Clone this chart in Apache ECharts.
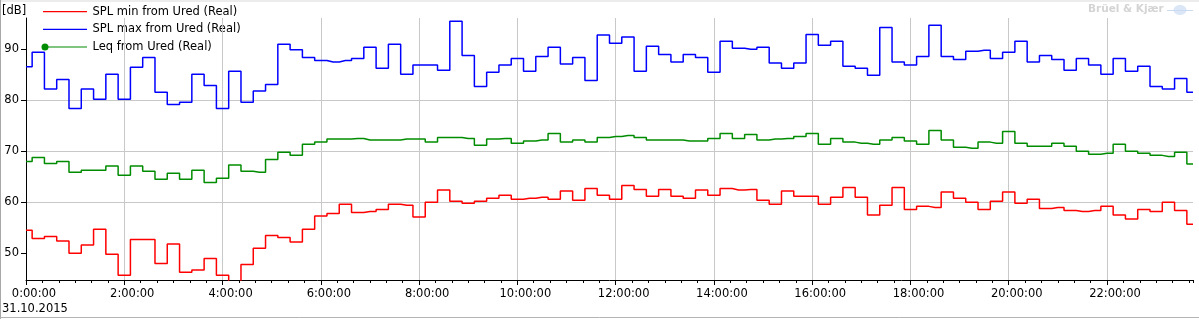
<!DOCTYPE html>
<html>
<head>
<meta charset="utf-8">
<script src="https://cdn.jsdelivr.net/npm/echarts@6/dist/echarts.min.js"></script>
<style>
html,body{margin:0;padding:0;background:#fff;}
#chart{width:1199px;height:319px;}
</style>
</head>
<body>
<div id="chart"></div>
<script>
// ---- data (15-minute intervals starting 0:00:00, 31.10.2015) ----
const seriesNames = ['SPL min from Ured (Real)', 'SPL max from Ured (Real)', 'Leq from Ured (Real)'];
const seriesColors = ['#ff0000', '#0000ff', '#008c00'];
const stepMinutes = 15;
const splMin = [
  54.5,52.9,53.3,52.4,50.0,51.6,54.7,49.8,45.7,52.7,
  52.7,48.0,51.8,46.3,46.7,49.0,45.7,44.0,47.8,51.0,
  53.5,53.1,52.2,54.7,57.3,57.8,59.6,58.0,58.2,58.6,
  59.6,59.4,57.1,60.0,62.4,60.2,59.8,60.2,60.8,61.4,
  60.6,60.8,61.0,60.6,62.2,60.4,62.7,61.4,60.6,63.3,
  62.5,61.2,62.5,61.2,60.8,62.4,61.4,62.7,62.4,62.5,
  60.4,59.6,62.2,61.2,61.2,59.6,61.0,62.9,61.0,57.5,
  59.4,62.9,58.6,59.2,59.0,62.0,60.8,60.0,58.6,60.2,
  62.0,59.8,60.6,58.8,59.0,58.4,58.2,58.4,59.2,57.5,
  56.7,58.6,58.2,60.0,58.4,55.7
];
const splMax = [
  86.6,89.4,82.2,84.1,78.4,82.2,80.2,85.1,80.2,86.5,
  88.4,81.6,79.2,79.6,85.1,82.9,78.4,85.7,79.6,81.8,
  83.1,91.0,89.9,88.4,87.8,87.5,87.8,88.2,90.4,86.3,
  91.0,85.1,86.9,86.9,85.9,95.5,88.8,82.7,85.5,86.9,
  88.2,85.7,88.6,90.4,87.1,88.4,83.9,92.8,91.2,92.4,
  85.7,90.6,89.0,87.5,89.0,88.4,85.5,91.6,90.2,90.0,
  90.4,87.3,86.3,87.3,92.9,90.8,91.6,86.7,86.3,84.9,
  94.3,87.5,86.9,88.6,94.7,88.6,88.0,89.6,89.8,88.2,
  89.4,91.6,87.5,88.8,88.0,85.9,88.2,86.9,85.1,88.2,
  85.7,86.7,82.7,82.2,84.3,81.6
];
const leq = [
  68.0,68.8,67.6,68.0,65.9,66.3,66.3,67.1,65.3,67.1,
  66.1,64.5,65.7,64.5,66.3,63.9,64.7,67.3,66.1,65.9,
  68.4,69.8,69.2,71.4,71.8,72.4,72.4,72.5,72.2,72.2,
  72.2,72.4,72.4,71.8,72.7,72.7,72.5,71.2,72.4,72.5,
  71.6,72.0,72.2,73.5,71.8,72.2,71.8,72.7,72.9,73.1,
  72.7,72.2,72.2,72.2,72.0,72.0,72.5,73.5,72.5,73.3,
  72.2,72.4,72.5,72.9,73.5,71.4,72.5,71.8,71.6,71.4,
  72.2,72.7,72.0,71.4,74.1,72.2,70.8,70.6,71.8,71.6,
  73.9,71.6,71.0,71.0,71.6,71.0,70.0,69.4,69.6,71.4,
  70.0,69.6,69.2,69.0,69.8,67.5
];
const yTicks = [50, 60, 70, 80, 90];
const dateLabel = '31.10.2015';
const unitLabel = '[dB]';
const brandLabel = 'Brüel & Kjær';

// ---- chart ----
const FONT = 'DejaVu Sans';
const FS = 11.5;
const chart = echarts.init(document.getElementById('chart'), null, {renderer: 'canvas'});
const toPairs = arr => arr.map((v, i) => [i * stepMinutes, v]);
const allSeries = [splMin, splMax, leq];
const xMax = (splMin.length - 1) * stepMinutes;

function fmtTime(v) {
  const h = Math.floor(v / 60), m = v % 60;
  return h + ':' + String(m).padStart(2, '0') + ':00';
}

const legendRowsY = [11.7, 29.3, 47];
const graphics = [
  // frame
  {type: 'rect', shape: {x: 0, y: 0, width: 1199, height: 2}, style: {fill: '#ececec'}, silent: true},
  {type: 'line', shape: {x1: 0.5, y1: 0, x2: 0.5, y2: 319}, style: {stroke: '#a8a8a8', lineWidth: 1}, silent: true},
  {type: 'line', shape: {x1: 0, y1: 317.5, x2: 1199, y2: 317.5}, style: {stroke: '#b4b4b4', lineWidth: 1}, silent: true},
  // unit label
  {type: 'text', left: 2, top: 5, style: {text: unitLabel, font: FS + 'px "' + FONT + '"', fill: '#000'}},
  // date label
  {type: 'text', left: 2, top: 303, style: {text: dateLabel, font: FS + 'px "' + FONT + '"', fill: '#000'}},
  // brand
  {type: 'text', left: 1088, top: 4, style: {text: brandLabel, font: 'bold 10.5px "' + FONT + '"', fill: '#d4d4d4'}},
  {type: 'ellipse', shape: {cx: 1180, cy: 10, rx: 6.5, ry: 5}, style: {fill: '#dbe7f7'}, silent: true},
  {type: 'line', shape: {x1: 1167, y1: 10.5, x2: 1193, y2: 10.5}, style: {stroke: '#c9daf1', lineWidth: 1}, silent: true}
];
seriesNames.forEach((name, i) => {
  const y = legendRowsY[i];
  graphics.push({type: 'line', shape: {x1: 43, y1: y, x2: 87, y2: y}, style: {stroke: seriesColors[i], lineWidth: 1.2}, silent: true});
  graphics.push({type: 'text', x: 92.5, y: y, style: {text: name, font: FS + 'px "' + FONT + '"', fill: '#000', verticalAlign: 'middle'}});
});
graphics.push({type: 'circle', shape: {cx: 45, cy: legendRowsY[2], r: 3.5}, style: {fill: seriesColors[2]}, silent: true});

const option = {
  animation: false,
  backgroundColor: '#fff',
  textStyle: {fontFamily: FONT},
  grid: {left: 26, right: 6, top: 18, bottom: 39, containLabel: false},
  xAxis: [{
    type: 'value', min: 0, max: xMax, interval: 120, position: 'bottom',
    axisLine: {show: true, lineStyle: {color: '#000', width: 1}},
    axisTick: {show: true, length: 5, lineStyle: {color: '#000'}},
    axisLabel: {
      show: true, showMaxLabel: false, formatter: fmtTime, color: '#000',
      fontFamily: FONT, fontSize: FS, margin: 8, padding: [0, 0, 0, 16]
    },
    splitLine: {show: true, showMaxLine: false, lineStyle: {color: '#c8c8c8', width: 1}}
  }, {
    type: 'value', min: 0, max: xMax, interval: 20, position: 'bottom',
    axisLine: {show: false},
    axisTick: {show: true, length: 3, lineStyle: {color: '#000'}},
    axisLabel: {show: false},
    splitLine: {show: false}
  }],
  yAxis: {
    type: 'value', min: 44.76, max: 96.14,
    axisLine: {show: true, lineStyle: {color: '#000', width: 1}},
    axisTick: {show: true, length: 5, customValues: yTicks, lineStyle: {color: '#000'}},
    axisLabel: {show: true, customValues: yTicks, color: '#000', fontFamily: FONT, fontSize: FS, margin: 7},
    splitLine: {show: true, showMinLine: false, showMaxLine: false, lineStyle: {color: '#c8c8c8', width: 1}}
  },
  series: allSeries.map((arr, i) => ({
    name: seriesNames[i],
    type: 'line',
    step: 'middle',
    xAxisIndex: 0,
    data: toPairs(arr),
    symbol: 'none',
    clip: true,
    lineStyle: {color: seriesColors[i], width: 1.5},
    z: 3 + (2 - i)
  })),
  graphic: graphics
};
chart.setOption(option);
</script>
</body>
</html>
